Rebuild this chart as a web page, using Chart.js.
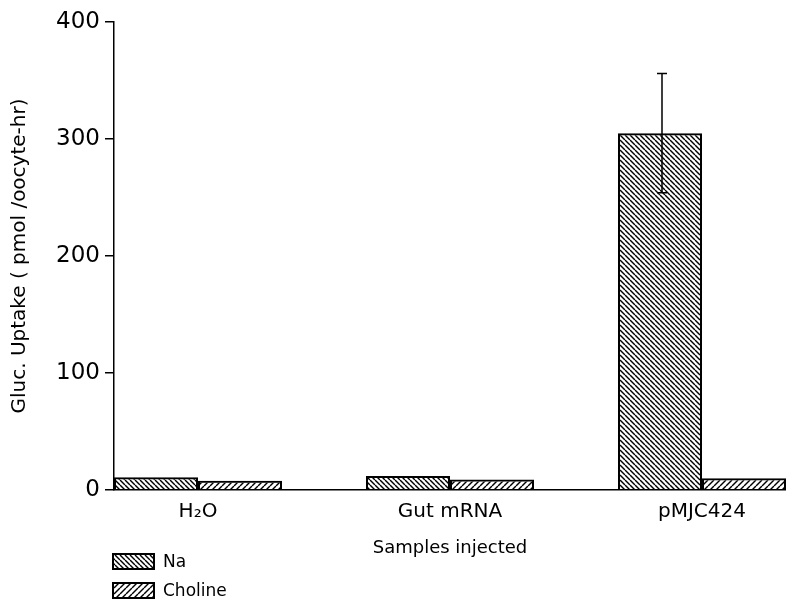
<!DOCTYPE html>
<html><head><meta charset="utf-8">
<script src="https://cdn.jsdelivr.net/npm/chart.js@4.4.1/dist/chart.umd.min.js"></script>
<style>html,body{margin:0;padding:0;background:#fff;} #wrap{width:786px;height:603px;}</style>
</head><body><div id="wrap"><canvas id="c" width="786" height="603"></canvas></div>
<script>
const categories = ['H\u2082O', 'Gut mRNA', 'pMJC424'];
const seriesNames = ['Na', 'Choline'];
const naValues = [11, 12, 305];
const cholineValues = [8, 9, 10];
const naErrors = [0, 0, 51];
const yTicks = [0, 100, 200, 300, 400];
const xTitle = 'Samples injected';
const yTitle = 'Gluc. Uptake ( pmol /oocyte-hr)';

const canvas = document.getElementById('c');
const mainCtx = canvas.getContext('2d');

function hatch(spacing, dir) {
  const c = document.createElement('canvas');
  c.width = spacing; c.height = spacing;
  const g = c.getContext('2d');
  g.strokeStyle = '#000'; g.lineWidth = 1.4;
  for (let k = -1; k <= 1; k++) {
    g.beginPath();
    if (dir === 'back') { g.moveTo(k * spacing, 0); g.lineTo(k * spacing + spacing, spacing); }
    else { g.moveTo(k * spacing, spacing); g.lineTo(k * spacing + spacing, 0); }
    g.stroke();
  }
  return mainCtx.createPattern(c, 'repeat');
}
const naPattern = hatch(5, 'back');
const cholinePattern = hatch(6, 'fwd');

Chart.defaults.font.family = '"DejaVu Sans", sans-serif';
Chart.defaults.color = '#000';

const errorBarPlugin = {
  id: 'errorBars',
  afterDatasetsDraw(chart) {
    const meta = chart.getDatasetMeta(0);
    const ys = chart.scales.y;
    const ctx = chart.ctx;
    naErrors.forEach((e, i) => {
      if (!e) return;
      const bar = meta.data[i];
      const v = naValues[i];
      const x = bar.x + 2;
      const y1 = ys.getPixelForValue(v + e), y2 = ys.getPixelForValue(v - e);
      ctx.save();
      ctx.strokeStyle = '#000'; ctx.lineWidth = 1.5;
      ctx.beginPath();
      ctx.moveTo(x, y1); ctx.lineTo(x, y2);
      ctx.moveTo(x - 5, y1); ctx.lineTo(x + 5, y1);
      ctx.moveTo(x - 5, y2); ctx.lineTo(x + 5, y2);
      ctx.stroke();
      ctx.restore();
    });
  }
};

const legendPlugin = {
  id: 'customLegend',
  afterDraw(chart) {
    const ctx = chart.ctx;
    chart.data.datasets.forEach((ds, i) => {
      const x = 112, y = 553 + i * 29, w = 43, h = 17;
      ctx.save();
      ctx.fillStyle = ds.backgroundColor;
      ctx.fillRect(x, y, w, h);
      ctx.strokeStyle = '#000'; ctx.lineWidth = 2;
      ctx.strokeRect(x + 1, y + 1, w - 2, h - 2);
      ctx.fillStyle = '#000';
      ctx.font = '17px "DejaVu Sans", sans-serif';
      ctx.textBaseline = 'middle';
      ctx.fillText(ds.label, x + w + 8, y + h / 2 + 1);
      ctx.restore();
    });
  }
};

new Chart(canvas, {
  type: 'bar',
  data: {
    datasets: [
      { label: seriesNames[0], data: naValues.map((v, i) => ({ x: i, y: v })),
        backgroundColor: naPattern, borderColor: '#000', borderWidth: 2 },
      { label: seriesNames[1], data: cholineValues.map((v, i) => ({ x: i, y: v })),
        backgroundColor: cholinePattern, borderColor: '#000', borderWidth: 2 }
    ]
  },
  options: {
    responsive: false,
    animation: false,
    layout: { padding: { top: 22, right: 0, bottom: 0, left: 0 } },
    plugins: { legend: { display: false }, tooltip: { enabled: false } },
    datasets: { bar: { categoryPercentage: 0.6667, barPercentage: 1.0 } },
    scales: {
      x: {
        type: 'linear',
        offset: false,
        min: -0.3333, max: 2.3333,
        afterBuildTicks: (s) => { s.ticks = categories.map((c, i) => ({ value: i })); },
        afterFit: (s) => { s.height = 113; },
        ticks: { callback: (v) => categories[v], font: { size: 20 }, padding: 10, autoSkip: false, maxRotation: 0 },
        grid: { display: false, drawTicks: false },
        border: { display: true, color: '#000', width: 1.5 },
        title: { display: true, text: xTitle, font: { size: 18 }, padding: { top: 0, bottom: 44 } }
      },
      y: {
        min: 0, max: 400,
        afterBuildTicks: (s) => { s.ticks = yTicks.map(v => ({ value: v })); },
        afterFit: (s) => { s.width = 114; },
        ticks: { font: { size: 23 }, padding: 5 },
        grid: { display: true, drawOnChartArea: false, drawTicks: true, tickLength: 9, color: '#000', lineWidth: 1.5 },
        border: { display: true, color: '#000', width: 1.5 },
        title: { display: true, text: yTitle, font: { size: 20 }, padding: { top: 8, bottom: 0 } }
      }
    }
  },
  plugins: [errorBarPlugin, legendPlugin]
});
</script>
</body></html>
